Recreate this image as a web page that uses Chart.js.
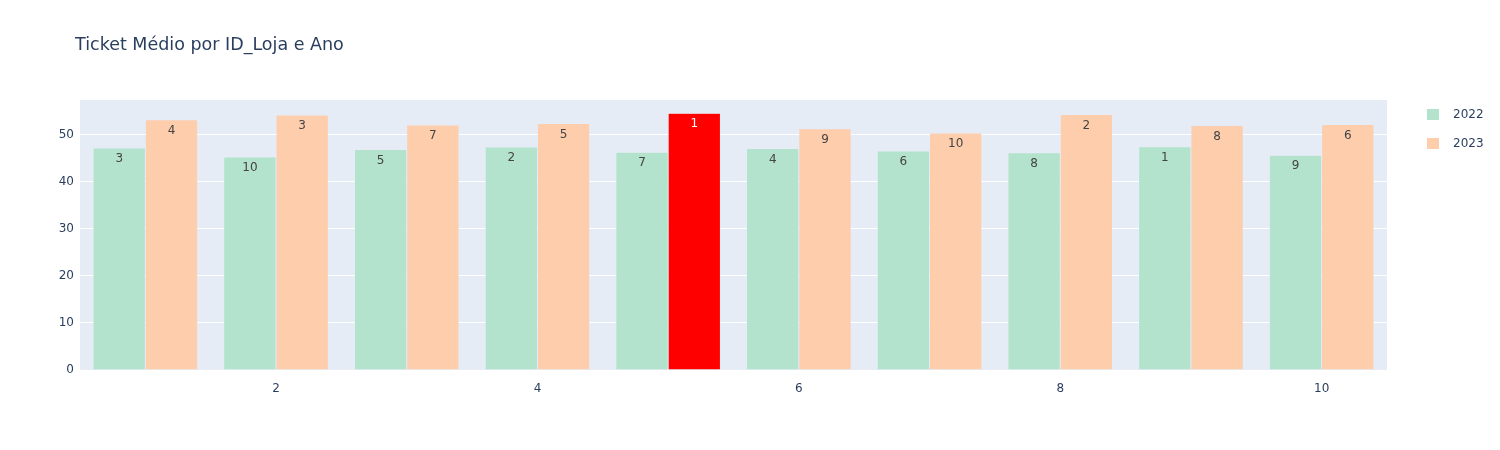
<!DOCTYPE html>
<html>
<head>
<meta charset="utf-8">
<script src="https://cdn.jsdelivr.net/npm/chart.js@4.4.0/dist/chart.umd.min.js"></script>
<style>
  body { margin: 0; background: #fff; font-family: verdana, "DejaVu Sans", arial, sans-serif; }
  #wrap { position: relative; width: 1500px; height: 450px; }
  #title { position: absolute; left: 75px; top: 34px; font-size: 17.5px; color: #2a3f5f; }
  .leg { position: absolute; left: 1427px; font-size: 12px; color: #2a3f5f; }
  .leg span.sw { position: absolute; left: 0; top: 2px; width: 12px; height: 11px; }
  .leg span.tx { position: absolute; left: 26px; top: 0px; }
</style>
</head>
<body>
<div id="wrap">
  <canvas id="chart" width="1500" height="450"></canvas>
  <div id="title">Ticket Médio por ID_Loja e Ano</div>
  <div class="leg" style="top:107px"><span class="sw" style="background:#b3e2cd"></span><span class="tx">2022</span></div>
  <div class="leg" style="top:136px"><span class="sw" style="background:#fdcdac"></span><span class="tx">2023</span></div>
</div>
<script>
const lojas = ["1", "2", "3", "4", "5", "6", "7", "8", "9", "10"];
const ticket2022 = [47.1, 45.2, 46.8, 47.3, 46.2, 47.0, 46.5, 46.1, 47.4, 45.6];
const ticket2023 = [53.1, 54.1, 52.0, 52.3, 54.5, 51.2, 50.3, 54.2, 51.9, 52.1];
const rank2022 = [3, 10, 5, 2, 7, 4, 6, 8, 1, 9];
const rank2023 = [4, 3, 7, 5, 1, 9, 10, 2, 8, 6];
const xTickLabels = ["2", "4", "6", "8", "10"];

const fonte = 'verdana, "DejaVu Sans", arial, sans-serif';
Chart.defaults.font.family = fonte;
Chart.defaults.font.size = 12;
Chart.defaults.color = "#2a3f5f";

// destaque: maior ticket de 2023 em vermelho
const maxIdx = ticket2023.indexOf(Math.max(...ticket2023));
const cores2023 = ticket2023.map((v, i) => i === maxIdx ? "#ff0000" : "#fdcdac");

const bgPlugin = {
  id: "bg",
  beforeDraw(chart) {
    const { ctx, chartArea: a } = chart;
    ctx.save();
    ctx.fillStyle = "#e5ecf6";
    ctx.fillRect(a.left, a.top, a.right - a.left, a.bottom - a.top);
    ctx.restore();
  }
};

const rankLabels = {
  id: "rankLabels",
  afterDatasetsDraw(chart) {
    const ctx = chart.ctx;
    const ranks = [rank2022, rank2023];
    ctx.save();
    ctx.font = "12px " + fonte;
    ctx.textAlign = "center";
    ctx.textBaseline = "middle";
    chart.data.datasets.forEach((ds, d) => {
      chart.getDatasetMeta(d).data.forEach((bar, i) => {
        ctx.fillStyle = (d === 1 && i === maxIdx) ? "#ffffff" : "#444444";
        ctx.fillText(String(ranks[d][i]), bar.x, bar.y + 11);
      });
    });
    ctx.restore();
  }
};

const ctx = document.getElementById("chart").getContext("2d");
const chart = new Chart(ctx, {
  type: "bar",
  data: {
    labels: lojas,
    datasets: [
      {
        label: "2022",
        data: ticket2022,
        backgroundColor: "#b3e2cd",
        borderColor: "#e5ecf6",
        borderWidth: 0.5,
        categoryPercentage: 0.8,
        barPercentage: 1.0,
      },
      {
        label: "2023",
        data: ticket2023,
        backgroundColor: cores2023,
        borderColor: "#e5ecf6",
        borderWidth: 0.5,
        categoryPercentage: 0.8,
        barPercentage: 1.0,
      },
    ],
  },
  options: {
    responsive: false,
    animation: false,
    devicePixelRatio: 1,
    layout: { padding: { left: 50, right: 113, top: 100, bottom: 55 } },
    plugins: {
      legend: { display: false },
      tooltip: { enabled: false },
    },
    scales: {
      x: {
        grid: { display: false },
        border: { display: false },
        ticks: {
          autoSkip: false,
          maxRotation: 0,
          padding: 4,
          callback: function (val) {
            const l = this.getLabelForValue(val);
            return xTickLabels.includes(l) ? l : "";
          },
        },
        afterFit(scale) { scale.height = 25; },
      },
      y: {
        min: 0,
        max: 57.3,
        grid: { color: "#ffffff", lineWidth: 1, drawTicks: false },
        border: { display: false },
        ticks: { stepSize: 10, includeBounds: false, padding: 6 },
        afterFit(scale) { scale.width = 30; },
      },
    },
  },
  plugins: [bgPlugin, rankLabels],
});
</script>
</body>
</html>
